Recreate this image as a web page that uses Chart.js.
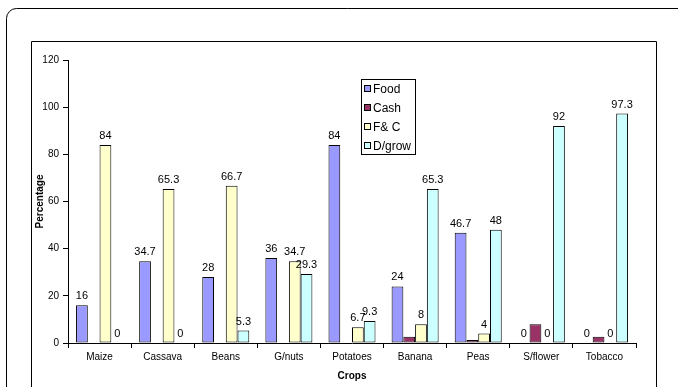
<!DOCTYPE html>
<html>
<head>
<meta charset="utf-8">
<script src="https://cdn.jsdelivr.net/npm/chart.js@4.4.1/dist/chart.umd.min.js"></script>
<style>
  html, body { margin: 0; padding: 0; background: #fff; }
  #wrap { width: 678px; height: 387px; }
</style>
</head>
<body>
<div id="wrap"><canvas id="c" width="678" height="387"></canvas></div>
<script>
// Share of households (%) by crop use
const crops = ['Maize', 'Cassava', 'Beans', 'G/nuts', 'Potatoes', 'Banana', 'Peas', 'S/flower', 'Tobacco'];
const food      = [16, 34.7, 28, 36, 84, 24, 46.7, 0, 0];
const cash      = [null, null, null, null, null, 2.7, 1.3, 8, 2.7];
const foodCash  = [84, 65.3, 66.7, 34.7, 6.7, 8, 4, 0, 0];
const dryGrow   = [0, 0, 5.3, 29.3, 9.3, 65.3, 48, 92, 97.3];
const yTicks    = [0, 20, 40, 60, 80, 100, 120];

const FONT = "'Liberation Sans', Arial, sans-serif";

// Outer rounded frame and inner plot frame
const framePlugin = {
  id: 'frames',
  beforeDraw(chart) {
    const ctx = chart.ctx;
    ctx.save();
    ctx.fillStyle = '#fff';
    ctx.fillRect(0, 0, chart.width, chart.height);
    ctx.strokeStyle = '#000';
    ctx.lineWidth = 1;
    ctx.beginPath();
    ctx.roundRect(6.5, 8.5, 720, 420, 10);
    ctx.stroke();
    ctx.beginPath();
    ctx.rect(31.5, 41.5, 625, 400);
    ctx.stroke();
    ctx.restore();
  }
};

// Value labels above bars (datasets flagged with showValues)
const valuePlugin = {
  id: 'values',
  afterDatasetsDraw(chart) {
    const ctx = chart.ctx;
    ctx.save();
    ctx.font = '11px ' + FONT;
    ctx.fillStyle = '#000';
    ctx.textAlign = 'center';
    ctx.textBaseline = 'alphabetic';
    chart.data.datasets.forEach((ds, i) => {
      if (!ds.showValues) return;
      const meta = chart.getDatasetMeta(i);
      meta.data.forEach((bar, j) => {
        const v = ds.data[j];
        if (v === null || v === undefined) return;
        ctx.fillText(String(v), bar.x, bar.y - 6);
      });
    });
    ctx.restore();
  }
};

// Boxed legend inside the plot
const legendPlugin = {
  id: 'boxLegend',
  afterDraw(chart) {
    const ctx = chart.ctx;
    const x0 = 361, y0 = 79, w = 54, rowH = 19;
    const h = rowH * chart.data.datasets.length - 1;
    ctx.save();
    ctx.fillStyle = '#fff';
    ctx.fillRect(x0, y0, w, h);
    ctx.strokeStyle = '#000';
    ctx.lineWidth = 1;
    ctx.strokeRect(x0 + 0.5, y0 + 0.5, w, h);
    ctx.font = '12px ' + FONT;
    ctx.textBaseline = 'middle';
    ctx.textAlign = 'left';
    chart.data.datasets.forEach((ds, i) => {
      const cy = y0 + 10 + i * rowH;
      ctx.fillStyle = ds.backgroundColor;
      ctx.fillRect(x0 + 3.5, cy - 3.5, 6, 6);
      ctx.strokeStyle = '#000';
      ctx.strokeRect(x0 + 3.5, cy - 3.5, 6, 6);
      ctx.fillStyle = '#000';
      ctx.fillText(ds.label, x0 + 12, cy + 0.5);
    });
    ctx.restore();
  }
};

const barStyle = { borderColor: '#000', borderWidth: 1, borderSkipped: false,
                   categoryPercentage: 0.745, barPercentage: 1.0 };

new Chart(document.getElementById('c'), {
  type: 'bar',
  data: {
    labels: crops,
    datasets: [
      Object.assign({ label: 'Food',   data: food,     backgroundColor: '#9999FF', showValues: true }, barStyle),
      Object.assign({ label: 'Cash',   data: cash,     backgroundColor: '#993366', showValues: false }, barStyle),
      Object.assign({ label: 'F& C',   data: foodCash, backgroundColor: '#FFFFCC', showValues: true }, barStyle),
      Object.assign({ label: 'D/grow', data: dryGrow,  backgroundColor: '#CCFFFF', showValues: true }, barStyle)
    ]
  },
  options: {
    responsive: false,
    animation: false,
    layout: { padding: { left: 30, right: 42, top: 60, bottom: 0 } },
    plugins: {
      legend: { display: false },
      tooltip: { enabled: false }
    },
    scales: {
      x: {
        grid: { display: true, drawOnChartArea: false, drawTicks: true, tickLength: 5, color: '#000', offset: true },
        border: { display: true, color: '#000', width: 1 },
        ticks: { color: '#000', font: { family: FONT, size: 10 }, padding: 3, maxRotation: 0, autoSkip: false },
        title: { display: true, text: 'Crops', color: '#000', font: { family: FONT, size: 10, weight: 'bold' }, padding: { top: 0, bottom: 5 } },
        afterFit(scale) { scale.height = 44; }
      },
      y: {
        min: yTicks[0],
        max: yTicks[yTicks.length - 1],
        afterBuildTicks(scale) { scale.ticks = yTicks.map(v => ({ value: v })); },
        grid: { display: true, drawOnChartArea: false, drawTicks: true, tickLength: 5, color: '#000' },
        border: { display: true, color: '#000', width: 1 },
        ticks: { color: '#000', font: { family: FONT, size: 10 }, padding: 4 },
        title: { display: true, text: 'Percentage', color: '#000', font: { family: FONT, size: 10, weight: 'bold' }, padding: { top: 4, bottom: 0 } },
        afterFit(scale) { scale.width = 38; }
      }
    }
  },
  plugins: [framePlugin, valuePlugin, legendPlugin]
});
</script>
</body>
</html>
